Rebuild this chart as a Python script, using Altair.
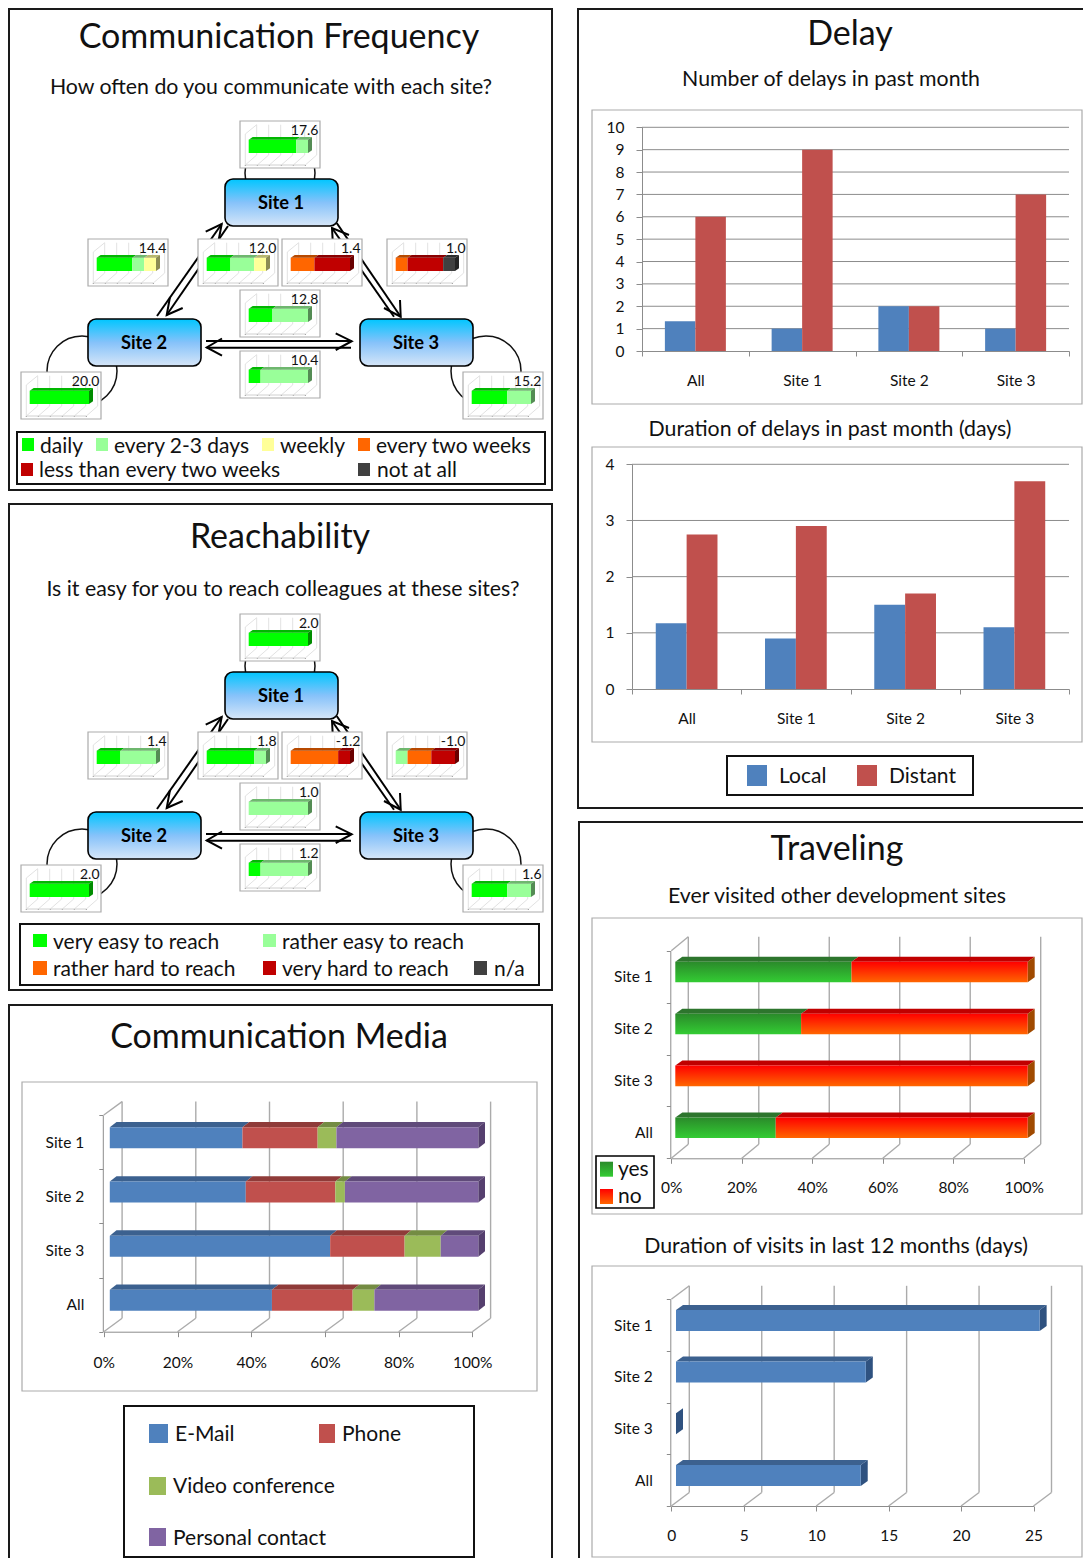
import altair as alt
import pandas as pd

# ---------- data ----------
SITES = ["Site 1", "Site 2", "Site 3"]
CF_LEVELS = ["daily", "every 2-3 days", "weekly", "every two weeks", "less than every two weeks", "not at all"]
CF_COLORS = ["#00FF00", "#99FF99", "#FFFF99", "#FF6600", "#C00000", "#404040"]
CF_LABELS = ["17.6", "14.4", "12.0", "1.4", "1.0", "12.8", "10.4", "20.0", "15.2"]
CF_SHARES = [
    [80, 20, 0, 0, 0, 0], [60, 20, 20, 0, 0, 0], [40, 40, 20, 0, 0, 0],
    [0, 0, 0, 40, 60, 0], [0, 0, 0, 20, 60, 20], [40, 60, 0, 0, 0, 0],
    [20, 80, 0, 0, 0, 0], [100, 0, 0, 0, 0, 0], [60, 40, 0, 0, 0, 0],
]
RE_LEVELS = ["very easy to reach", "rather easy to reach", "rather hard to reach", "very hard to reach", "n/a"]
RE_COLORS = ["#00FF00", "#99FF99", "#FF6600", "#C00000", "#404040"]
RE_LABELS = ["2.0", "1.4", "1.8", "-1.2", "-1.0", "1.0", "1.2", "2.0", "1.6"]
RE_SHARES = [
    [100, 0, 0, 0, 0], [40, 60, 0, 0, 0], [80, 20, 0, 0, 0],
    [0, 0, 80, 20, 0], [0, 20, 40, 40, 0], [0, 100, 0, 0, 0],
    [20, 80, 0, 0, 0], [100, 0, 0, 0, 0], [60, 40, 0, 0, 0],
]
BAR_CATS = ["Site 1", "Site 2", "Site 3", "All"]
MEDIA_NAMES = ["E-Mail", "Phone", "Video conference", "Personal contact"]
MEDIA_EMAIL = [36.0, 36.9, 59.8, 44.0]
MEDIA_PHONE = [20.4, 24.3, 20.2, 21.9]
MEDIA_VIDEO = [5.1, 2.6, 9.8, 5.9]
MEDIA_PERSONAL = [38.5, 36.2, 10.2, 28.2]
PCT_TICKS = [0, 20, 40, 60, 80, 100]
DELAY_CATS = ["All", "Site 1", "Site 2", "Site 3"]
DELAY_SERIES = ["Local", "Distant"]
DELAY_NUM_LOCAL = [1.33, 1, 2, 1]
DELAY_NUM_DISTANT = [6, 9, 2, 7]
DELAY_NUM_TICKS = list(range(0, 11))
DELAY_DUR_LOCAL = [1.17, 0.9, 1.5, 1.1]
DELAY_DUR_DISTANT = [2.75, 2.9, 1.7, 3.7]
DELAY_DUR_TICKS = [0, 1, 2, 3, 4]
VISIT_YES = [50.0, 35.7, 0.0, 28.5]
VISIT_NO = [50.0, 64.3, 100.0, 71.5]
DURATION_DAYS = [25.1, 13.1, 0.0, 12.75]
DURATION_TICKS = [0, 5, 10, 15, 20, 25]

# ---------- style ----------
W, H = 1075, 1550
FONT = "Lato"
BLUE, RED = "#4F81BD", "#C0504D"
one = pd.DataFrame({"a": [0]})


def shade(hex_color, k):
    r, g, b = (int(hex_color[i:i + 2], 16) for i in (1, 3, 5))
    return "#%02X%02X%02X" % (int(r * k), int(g * k), int(b * k))


def grad(*colors):
    n = len(colors) - 1
    return alt.LinearGradient(gradient="linear", x1=0, x2=0, y1=0, y2=1,
                              stops=[alt.GradientStop(color=c, offset=i / n) for i, c in enumerate(colors)])


def text(s, x, y, size=20, align="center", weight="normal", color="#111111"):
    lift = 2 if size > 30 else 1
    return alt.Chart(one).mark_text(text=s, font=FONT, fontSize=size, align=align, baseline="middle",
                                    fontWeight=weight, color=color).encode(x=alt.value(x - 8), y=alt.value(y + lift - 8))


def box(x0, y0, x1, y1, fill="transparent", stroke="#111111", sw=1.5, radius=0):
    kw = {"cornerRadius": radius} if radius else {}
    return alt.Chart(one).mark_rect(fill=fill, stroke=stroke, strokeWidth=sw, **kw).encode(
        x=alt.value(x0 - 8), x2=alt.value(x1 - 8), y=alt.value(y0 - 8), y2=alt.value(y1 - 8))


def poly_layer(df, xs, ys):
    return alt.Chart(df).mark_line(interpolate="linear-closed", stroke="transparent", strokeWidth=0).encode(
        x=alt.X("x:Q", scale=xs, axis=None), y=alt.Y("y:Q", scale=ys, axis=None),
        detail="pid:N", order="i:Q", fill=alt.Fill("c:N", scale=None))


def add_poly(rows, pid, pts, c):
    for i, (x, y) in enumerate(pts):
        rows.append({"pid": pid, "i": i, "x": x, "y": y, "c": c})


def mini(bx, by, label, shares, colors):
    ppx = 59.3 / 100
    X = lambda p: (p - 8.7) / ppx
    xs = alt.Scale(domain=[0, 100], range=[bx + 8.7 - 8, bx + 68 - 8], nice=False, zero=False)
    ys = alt.Scale(domain=[0, 47], range=[by - 8, by + 47 - 8], nice=False, zero=False)
    fr = pd.DataFrame({"x0": [X(0)], "x1": [X(80)], "y0": [0], "y1": [47]})
    frame = alt.Chart(fr).mark_rect(fill="white", stroke="#ABABAB", strokeWidth=1.2).encode(
        x=alt.X("x0:Q", scale=xs, axis=None), x2="x1:Q", y=alt.Y("y0:Q", scale=ys, axis=None), y2="y1:Q")
    lines = []
    for k in range(6):
        fx, bkx = 5.3 + 12 * k, 16.7 + 12 * k
        lines += [{"pid": f"d{k}", "i": 0, "x": X(fx), "y": 44, "c": "#E2E2E2"},
                  {"pid": f"d{k}", "i": 1, "x": X(bkx), "y": 34, "c": "#E2E2E2"},
                  {"pid": f"v{k}", "i": 0, "x": X(bkx), "y": 34, "c": "#E2E2E2"},
                  {"pid": f"v{k}", "i": 1, "x": X(bkx), "y": 3.7, "c": "#E2E2E2"},
                  {"pid": f"t{k}", "i": 0, "x": X(fx), "y": 44, "c": "#8A8A8A"},
                  {"pid": f"t{k}", "i": 1, "x": X(fx), "y": 45, "c": "#8A8A8A"}]
    lines += [{"pid": "f", "i": 0, "x": X(5.3), "y": 44, "c": "#D0D0D0"}, {"pid": "f", "i": 1, "x": X(65.3), "y": 44, "c": "#D0D0D0"},
              {"pid": "w", "i": 0, "x": X(5.3), "y": 44, "c": "#E2E2E2"}, {"pid": "w", "i": 1, "x": X(5.3), "y": 13, "c": "#E2E2E2"},
              {"pid": "w", "i": 2, "x": X(16.7), "y": 3.7, "c": "#E2E2E2"}]
    wall = alt.Chart(pd.DataFrame(lines)).mark_line(strokeWidth=1).encode(
        x=alt.X("x:Q", scale=xs, axis=None), y=alt.Y("y:Q", scale=ys, axis=None),
        detail="pid:N", order="i:Q", stroke=alt.Stroke("c:N", scale=None))
    rows, cum, polys = [], 0, []
    last = None
    ddx, ddy = 4 / ppx, 2.7
    y0, y1 = 18.7, 32
    for v, c in zip(shares, colors):
        if v <= 0:
            continue
        rows.append({"x0": cum, "x1": cum + v, "y0": y0, "y1": y1, "c": c})
        add_poly(polys, f"t{cum}", [(cum, y0), (cum + v, y0), (cum + v + ddx, y0 - ddy), (cum + ddx, y0 - ddy)], shade(c, 0.72))
        cum += v
        last = c
    add_poly(polys, "s", [(cum, y0), (cum + ddx, y0 - ddy), (cum + ddx, y1 - ddy), (cum, y1)], shade(last, 0.55))
    front = alt.Chart(pd.DataFrame(rows)).mark_rect().encode(
        x=alt.X("x0:Q", scale=xs, axis=None), x2="x1:Q", y=alt.Y("y0:Q", scale=ys, axis=None), y2="y1:Q",
        fill=alt.Fill("c:N", scale=None))
    lab = alt.Chart(pd.DataFrame({"x": [X(78.5)], "y": [10], "t": [label]})).mark_text(
        font=FONT, fontSize=14, align="right", baseline="middle", color="#111111").encode(
        x=alt.X("x:Q", scale=xs, axis=None), y=alt.Y("y:Q", scale=ys, axis=None), text="t:N")
    return alt.layer(frame, wall, front, poly_layer(pd.DataFrame(polys), xs, ys), lab)


MINI_POS = [(240, 121), (88, 239), (198, 239), (282, 239), (387, 239), (240, 290), (240, 351), (21, 372), (463, 372)]
SITE_POS = [(225, 179), (88, 319), (360, 319)]
PX_X = alt.Scale(domain=[0, W], range=[0, W], nice=False, zero=False)
PX_Y = alt.Scale(domain=[0, H], range=[0, H], nice=False, zero=False)
ARROWS = [
    [(157, 316), (221.7, 224)], [(205.7, 231.7), (221.7, 224), (218.5, 241)],
    [(228, 226), (166.7, 315)], [(182.7, 308), (166.7, 315), (170, 297)],
    [(336.7, 223), (400.7, 316.7)], [(400, 300), (400.7, 316.7), (384, 308)],
    [(394, 316.7), (332, 228)], [(333, 246), (332, 228), (349, 235)],
    [(206.7, 347.7), (351, 347.7)], [(222, 338.5), (206.7, 347.5), (222, 355.7)],
    [(206, 341), (351.7, 341)], [(335.7, 333.3), (351.7, 341.2), (335.7, 350)],
]


def diagram(dy, labels, shares, colors):
    lays = []
    for cx, cy in [(280, 173), (82, 371), (486, 371)]:
        lays.append(alt.Chart(one).mark_point(shape="circle", size=4900, filled=False, stroke="#111111", strokeWidth=1.5, opacity=1).encode(
            x=alt.value(cx - 8), y=alt.value(cy + dy - 8)))
    rows = []
    for n, a in enumerate(ARROWS):
        for i, (x, y) in enumerate(a):
            rows.append({"pid": n, "i": i, "x": x - 8, "y": y + dy - 8})
    lays.append(alt.Chart(pd.DataFrame(rows)).mark_line(color="#000000", strokeWidth=2).encode(
        x=alt.X("x:Q", scale=PX_X, axis=None), y=alt.Y("y:Q", scale=PX_Y, axis=None), detail="pid:N", order="i:Q"))
    for (bx, by), lb, sh in zip(MINI_POS, labels, shares):
        lays.append(mini(bx, by + dy, lb, sh, colors))
    for (sx, sy), name in zip(SITE_POS, SITES):
        lays.append(box(sx, sy + dy, sx + 113, sy + dy + 47, fill=grad("#00C6FF", "#86C2FA", "#D6E6F8"), stroke="#000000", sw=1.6, radius=8))
        lays.append(text(name, sx + 56, sy + dy + 23.5, size=18.3, weight="bold", color="#000000"))
    return lays


def swatches(items, size=21):
    out = []
    for (x0, y0, x1, y1, fill, lx, ly, lab) in items:
        out.append(box(x0, y0, x1, y1, fill=fill, stroke="transparent", sw=0))
        out.append(text(lab, lx, ly, size=size, align="left"))
    return out


AX = dict(labelFont=FONT, labelColor="#111111", domainColor="#8C8C8C", tickColor="#8C8C8C", grid=False, title=None, labelFontSize=15.5)


def bars3d(cats, segs, dom, ticks, fmt, g):
    """g: front x0,x1; floor; top; ddx,ddy wall depth; xoff,yoff,h bar; bdx,bdy bar depth"""
    n = len(cats)
    step = (g["floor"] - g["top"]) / n
    ppx = (g["x1"] - g["x0"]) / dom
    xs = alt.Scale(domain=[0, dom], range=[g["x0"] - 8, g["x1"] - 8], nice=False, zero=False)
    ysq = alt.Scale(domain=[0, n], range=[g["top"] - 8, g["floor"] - 8], nice=False, zero=False)
    wall = []
    wdx, wdy = g["ddx"] / ppx, g["ddy"] / step
    for t in ticks:
        add_poly(wall, f"d{t}", [(t, n), (t + wdx, n - wdy)], "")
        add_poly(wall, f"v{t}", [(t + wdx, n - wdy), (t + wdx, -wdy)], "")
    add_poly(wall, "tl", [(0, 0), (wdx, -wdy)], "")
    wall_l = alt.Chart(pd.DataFrame(wall)).mark_line(color="#ABABAB", strokeWidth=1.4).encode(
        x=alt.X("x:Q", scale=xs, axis=None), y=alt.Y("y:Q", scale=ysq, axis=None), detail="pid:N", order="i:Q")

    xaxis = alt.Axis(orient="bottom", offset=g["floor"] - 8 - H, values=ticks, tickSize=5, labelPadding=g["lpx"],
                     labelFlush=False, labelOverlap=False, format="d", labelExpr=fmt, **AX)
    yaxis = alt.Axis(orient="left", offset=-(g["x0"] - 1 - 8), tickSize=4, labelPadding=g["lpy"], tickBand="extent", **AX)
    ysn = alt.Scale(domain=cats, range=[g["top"] - 8, g["floor"] - 8], paddingInner=0, paddingOuter=0)
    fronts, polys = [], []
    cum = [0.0] * n
    off = g["xoff"] / ppx
    bdx = g["bdx"] / ppx
    for s in segs:
        recs = []
        for i, c in enumerate(cats):
            v = s["values"][i]
            a, b = cum[i], cum[i] + v
            cum[i] = b
            yc = i + 0.5 + g["yoff"] / step
            yt = yc - g["h"] / 2 / step
            ytb = yt - g["bdy"] / step
            if v > 0:
                recs.append({"cat": c, "x0": a, "x1": b})
                add_poly(polys, f"t{s['name']}{i}", [(a + off, yt), (b + off, yt), (b + off + bdx, ytb), (a + off + bdx, ytb)], s["top"])
        fronts.append((s, pd.DataFrame(recs)))
    for i, c in enumerate(cats):
        last = [s for s in segs if s["values"][i] > 0]
        side = last[-1]["side"] if last else segs[-1]["side"]
        e = cum[i] + off
        yc = i + 0.5 + g["yoff"] / step
        yt, yb = yc - g["h"] / 2 / step, yc + g["h"] / 2 / step
        d = g["bdy"] / step
        add_poly(polys, f"s{i}", [(e, yt), (e + bdx, yt - d), (e + bdx, yb - d), (e, yb)], side)
    fl = []
    for s, df in fronts:
        ch = alt.Chart(df).mark_bar(size=g["h"], yOffset=g["yoff"], xOffset=g["xoff"], x2Offset=g["xoff"], fill=s["fill"]).encode(
            x=alt.X("x0:Q", scale=xs, axis=xaxis), x2="x1:Q",
            y=alt.Y("cat:N", scale=ysn, axis=yaxis, sort=None))
        fl.append(ch)
    return [alt.layer(wall_l, poly_layer(pd.DataFrame(polys), xs, ysq)), alt.layer(*fl)]


def delay_chart(cats, local, distant, ticks, x0, x1, y0, y1, outer):
    ys = alt.Scale(domain=[ticks[0], ticks[-1]], range=[y0 - 8, y1 - 8], nice=False, zero=False)
    yaxis = alt.Axis(orient="left", offset=-(x0 - 8), values=ticks, tickSize=6, labelPadding=12, format="d", **AX)
    rule = alt.Chart(pd.DataFrame({"v": ticks[1:]})).mark_rule(color="#8C8C8C", strokeWidth=1).encode(
        y=alt.Y("v:Q", scale=ys, axis=yaxis), x=alt.value(x0 - 8), x2=alt.value(x1 - 8))
    rows = []
    for c, a, b in zip(cats, local, distant):
        rows.append({"cat": c, "s": DELAY_SERIES[0], "v": a, "c": BLUE})
        rows.append({"cat": c, "s": DELAY_SERIES[1], "v": b, "c": RED})
    bars = alt.Chart(pd.DataFrame(rows)).mark_bar().encode(
        x=alt.X("cat:N", sort=None, scale=alt.Scale(domain=cats, range=[x0 - 8, x1 - 8], paddingInner=0, paddingOuter=0),
                axis=alt.Axis(orient="bottom", offset=y0 - 8 - H, tickBand="extent", tickSize=5, labelPadding=17, labelAngle=0, **AX)),
        xOffset=alt.XOffset("s:N", sort=None, scale=alt.Scale(domain=DELAY_SERIES, paddingInner=0, paddingOuter=outer)),
        y=alt.Y("v:Q", scale=ys, axis=yaxis),
        fill=alt.Fill("c:N", scale=None))
    return alt.layer(rule, bars)


layers = []
BOTTOM = H + 7  # last visible row of the page
RIGHT = W + 7   # last visible column of the page
# panel frames (the first pixels of the page are the page margin)
for f in [(9, 9, 552, 490), (9, 504, 552, 990), (9, 1005, 552, 1580), (578, 9, 1110, 808), (579, 822, 1110, 1580)]:
    layers.append(box(*f, stroke="#1A1A1A", sw=2))
for f in [(592, 110, RIGHT, 404), (592, 447, RIGHT, 742), (22, 1082, 537, 1391), (592, 918, RIGHT, 1214), (592, 1266, RIGHT, min(1563, BOTTOM))]:
    layers.append(box(*f, stroke="#ABABAB", sw=1.2))

# titles
TS, SS = 34, 21.3
layers += [
    text("Communication Frequency", 279, 36, TS),
    text("How often do you communicate with each site?", 271, 87, SS),
    text("Reachability", 280, 536, TS),
    text("Is it easy for you to reach colleagues at these sites?", 283, 589, SS),
    text("Communication Media", 279, 1036, TS),
    text("Delay", 850, 33, TS),
    text("Number of delays in past month", 831, 79, SS),
    text("Duration of delays in past month (days)", 830, 429, SS),
    text("Traveling", 837, 848, TS),
    text("Ever visited other development sites", 837, 896, SS),
    text("Duration of visits in last 12 months (days)", 836, 1246, SS),
]

layers += diagram(0, CF_LABELS, CF_SHARES, CF_COLORS)
layers.append(box(17, 432, 545, 484, sw=2))
layers += swatches([
    (22, 438, 34, 451, CF_COLORS[0], 40, 446, CF_LEVELS[0]),
    (96, 438, 108, 451, CF_COLORS[1], 114, 446, CF_LEVELS[1]),
    (262, 438, 274, 451, CF_COLORS[2], 280, 446, CF_LEVELS[2]),
    (358, 438, 370, 451, CF_COLORS[3], 376, 446, CF_LEVELS[3]),
    (21, 463, 33, 476, CF_COLORS[4], 39, 470, CF_LEVELS[4]),
    (358, 463, 370, 476, CF_COLORS[5], 377, 470, CF_LEVELS[5]),
])

layers += diagram(493, RE_LABELS, RE_SHARES, RE_COLORS)
layers.append(box(20, 924, 539, 985, sw=2))
layers += swatches([
    (33, 934, 47, 947, RE_COLORS[0], 53, 942, RE_LEVELS[0]),
    (263, 934, 276, 947, RE_COLORS[1], 282, 942, RE_LEVELS[1]),
    (33, 961, 47, 975, RE_COLORS[2], 53, 969, RE_LEVELS[2]),
    (263, 961, 276, 975, RE_COLORS[3], 282, 969, RE_LEVELS[3]),
    (474, 961, 487, 975, RE_COLORS[4], 494, 969, RE_LEVELS[4]),
])

# communication media
PCT = "datum.value + '%'"
layers += bars3d(BAR_CATS, [
    dict(name="e", values=MEDIA_EMAIL, fill=BLUE, top="#3C618F", side="#355B88"),
    dict(name="p", values=MEDIA_PHONE, fill=RED, top="#8F3B39", side="#8F3B39"),
    dict(name="v", values=MEDIA_VIDEO, fill="#9BBB59", top="#748C43", side="#748C43"),
    dict(name="c", values=MEDIA_PERSONAL, fill="#8064A2", top="#604B7A", side="#553F6E"),
], 100, PCT_TICKS, PCT, dict(x0=103.8, x1=472.3, floor=1331.7, top=1115, ddx=18.3, ddy=13.4, xoff=6, yoff=-4.3, h=21, bdx=6.7, bdy=5.3, lpx=19, lpy=15))
layers.append(box(124, 1406, 474, min(1561, BOTTOM), sw=2))
layers += swatches([
    (149, 1424, 168, 1443, BLUE, 175, 1434, MEDIA_NAMES[0]),
    (319, 1424, 335, 1443, RED, 342, 1434, MEDIA_NAMES[1]),
    (149, 1477, 166, 1495, "#9BBB59", 173, 1486, MEDIA_NAMES[2]),
    (149, 1528, 166, 1546, "#8064A2", 173, 1538, MEDIA_NAMES[3]),
])

# delay
layers.append(delay_chart(DELAY_CATS, DELAY_NUM_LOCAL, DELAY_NUM_DISTANT, DELAY_NUM_TICKS, 642, 1069, 351, 127.3, 0.75))
layers.append(delay_chart(DELAY_CATS, DELAY_DUR_LOCAL, DELAY_DUR_DISTANT, DELAY_DUR_TICKS, 632, 1069, 689, 464.3, 0.77))
layers.append(box(727, 756, 973, 795, sw=2))
layers += swatches([
    (747, 765, 767, 786, BLUE, 779, 776, DELAY_SERIES[0]),
    (857, 765, 877, 786, RED, 889, 776, DELAY_SERIES[1]),
])

# traveling
YES_G, NO_G = grad("#2A8A2A", "#33CC33"), grad("#FF0000", "#FF6600")
layers += bars3d(BAR_CATS, [
    dict(name="y", values=VISIT_YES, fill=YES_G, top="#2D752D", side="#2D752D"),
    dict(name="n", values=VISIT_NO, fill=NO_G, top="#C00000", side="#A04A00"),
], 100, PCT_TICKS, PCT, dict(x0=671.3, x1=1023.7, floor=1158.3, top=950.7, ddx=17, ddy=14, xoff=4, yoff=-4.6, h=20.6, bdx=7, bdy=5, lpx=17, lpy=14))
layers.append(box(596, 1156, 654, 1208, fill="white", stroke="#000000", sw=1.6))
layers += swatches([
    (600, 1161.7, 613, 1176.7, YES_G, 618, 1169, "yes"),
    (600, 1189, 613, 1204, NO_G, 618, 1196, "no"),
])
layers += bars3d(BAR_CATS, [
    dict(name="d", values=DURATION_DAYS, fill=BLUE, top="#3C618F", side="#2F5280"),
], 25, DURATION_TICKS, "datum.value + ''", dict(x0=671.3, x1=1033.5, floor=1506, top=1299.3, ddx=18, ddy=13.5, xoff=4.7, yoff=-4.7, h=21, bdx=7, bdy=5, lpx=17, lpy=14))

chart = alt.layer(*layers).resolve_scale(x="independent", y="independent", xOffset="independent").properties(
    width=W, height=H, padding=0, background="white", autosize=alt.AutoSizeParams(type="none")
).configure_view(stroke=None)
chart.save("out.html", embed_options={"renderer": "svg", "actions": False})
